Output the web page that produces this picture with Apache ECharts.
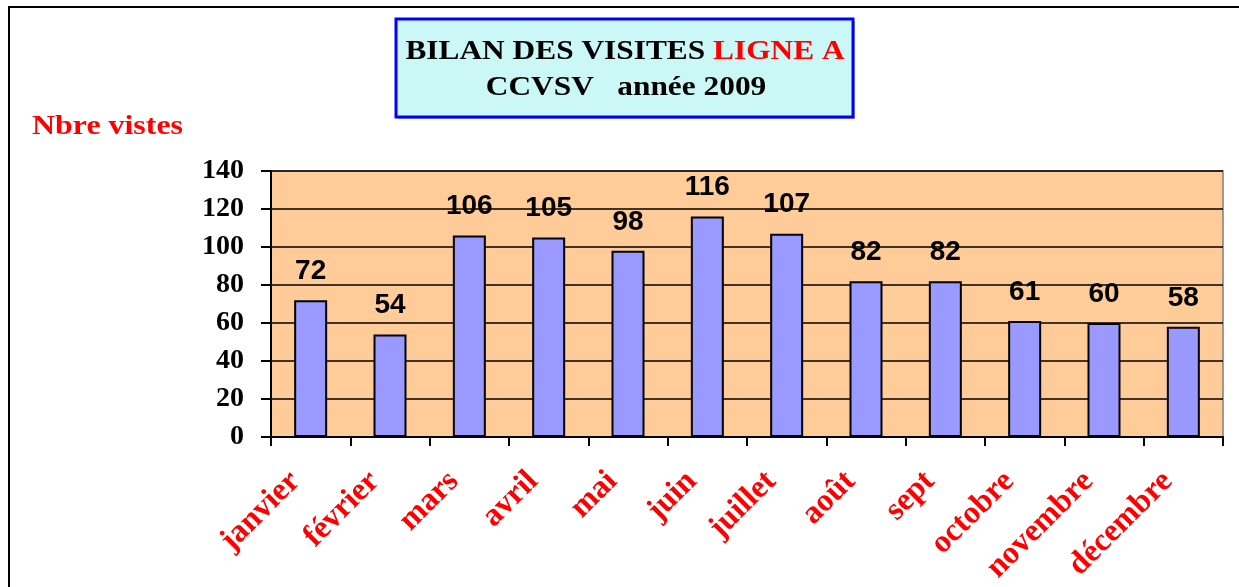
<!DOCTYPE html>
<html><head><meta charset="utf-8">
<script src="https://cdn.jsdelivr.net/npm/echarts@6/dist/echarts.min.js"></script>
<style>html,body{margin:0;padding:0;background:#fff}#c{width:1239px;height:587px}</style>
</head><body><div id="c"></div>
<script>
const months = ['janvier','février','mars','avril','mai','juin','juillet','août','sept','octobre','novembre','décembre'];
const visits = [72,54,106,105,98,116,107,82,82,61,60,58];
const yTicks = {min:0, max:140, interval:20};
const titleLine1 = 'BILAN DES VISITES ';
const titleLine1Red = 'LIGNE A';
const titleLine2 = 'CCVSV   année 2009';
const yName = 'Nbre vistes';

const chart = echarts.init(document.getElementById('c'));
const serif = '"Liberation Serif","Times New Roman",serif';
const sans = '"Liberation Sans",Arial,sans-serif';
chart.setOption({
  animation:false,
  backgroundColor:'#fff',
  grid:{left:271,right:16,top:171,bottom:150,show:true,backgroundColor:'#FFCC99',borderColor:'#808080',borderWidth:1.5},
  xAxis:{type:'category',data:months,
    axisLine:{show:true,lineStyle:{color:'#000',width:2}},
    axisTick:{show:true,length:9,lineStyle:{color:'#000',width:2},alignWithLabel:false},
    axisLabel:{rotate:45,margin:24,padding:[0,22,0,0],color:'#ff0000',fontFamily:serif,fontWeight:'bold',fontSize:32,interval:0}},
  yAxis:{type:'value',min:yTicks.min,max:yTicks.max,interval:yTicks.interval,
    axisLine:{show:true,lineStyle:{color:'#000',width:2}},
    axisTick:{show:true,length:10,lineStyle:{color:'#000',width:2}},
    splitLine:{show:true,lineStyle:{color:'#000',width:1.5}},
    axisLabel:{margin:27,color:'#000',fontFamily:serif,fontWeight:'bold',fontSize:28}},
  series:[{type:'bar',data:visits,barWidth:33,
    itemStyle:{color:'#9999FF',borderColor:'#000',borderWidth:2},
    label:{show:true,position:'top',distance:15,color:'#000',fontFamily:sans,fontWeight:'bold',fontSize:28}}],
  graphic:[
    {type:'rect',shape:{x:9,y:7,width:1300,height:700},style:{fill:'none',stroke:'#000',lineWidth:2},z:100},
    {type:'rect',shape:{x:398,y:21,width:457,height:98},style:{fill:'#b0b0b0'},z:99},
    {type:'rect',shape:{x:396,y:19,width:457,height:98},style:{fill:'#ccf7f7',stroke:'#0000ff',lineWidth:3},z:100},
    {type:'text',x:625,y:52,scaleX:1.12,z:101,style:{text:'{a|'+titleLine1+'}{b|'+titleLine1Red+'}',textAlign:'center',textVerticalAlign:'middle',
      rich:{a:{fontFamily:serif,fontWeight:'bold',fontSize:28,fill:'#000'},b:{fontFamily:serif,fontWeight:'bold',fontSize:28,fill:'#ff0000'}}}},
    {type:'text',x:626,y:88,scaleX:1.12,z:101,style:{text:titleLine2,textAlign:'center',textVerticalAlign:'middle',fontFamily:serif,fontWeight:'bold',fontSize:28,fill:'#000'}},
    {type:'text',x:32,y:127,scaleX:1.14,z:101,style:{text:yName,textAlign:'left',textVerticalAlign:'middle',fontFamily:serif,fontWeight:'bold',fontSize:28,fill:'#ff0000'}}
  ]
});
</script></body></html>
